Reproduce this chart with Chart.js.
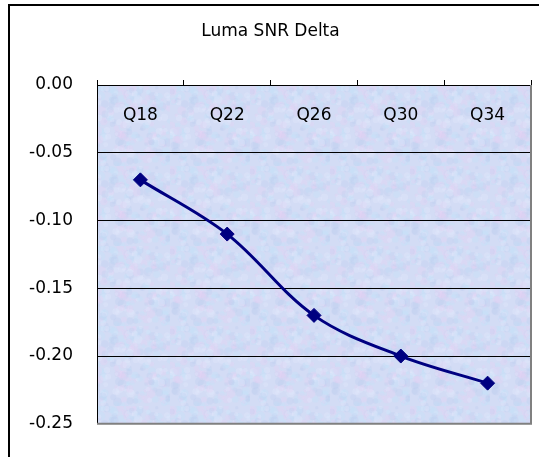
<!DOCTYPE html>
<html>
<head>
<meta charset="utf-8">
<script src="https://cdn.jsdelivr.net/npm/chart.js@4.4.1/dist/chart.umd.min.js"></script>
<style>
  html, body { margin: 0; padding: 0; background: #fff; overflow: hidden; }
  #frame {
    position: absolute; left: 8px; top: 4px;
    width: 560px; height: 480px;
    border-left: 2px solid #000; border-top: 2px solid #000;
  }
  #chart { position: absolute; left: 0; top: 0; }
</style>
</head>
<body>
<div id="frame"><canvas id="chart" width="536" height="452"></canvas></div>
<script>
const categories = ['Q18', 'Q22', 'Q26', 'Q30', 'Q34'];
const snrDelta = [-0.07, -0.11, -0.17, -0.20, -0.22];
const yMin = -0.25;
const yMax = 0;
const yStep = 0.05;

// fine blue/pink grain tile, a stand-in for the excel textured fill
function makeTexture() {
  const t = document.createElement('canvas');
  t.width = 80; t.height = 80;
  const g = t.getContext('2d');
  g.fillStyle = '#d3dcf5';
  g.fillRect(0, 0, 80, 80);
  const tints = ['rgba(196,226,248,0.35)', 'rgba(228,210,244,0.35)', 'rgba(190,205,240,0.3)', 'rgba(225,232,252,0.35)'];
  const hash = (n) => ((Math.sin(n) * 43758.5453) % 1 + 1) % 1;
  for (let i = 0; i < 260; i++) {
    const x = hash(i * 12.9898) * 80;
    const y = hash(i * 78.233 + 3.1) * 80;
    const r = 1.5 + hash(i * 4.7 + 9.2) * 3;
    g.fillStyle = tints[i % tints.length];
    g.beginPath();
    g.arc(x, y, r, 0, Math.PI * 2);
    g.fill();
  }
  return t;
}

// plot area fill + grey border on right/bottom, like the excel plot area
const plotArea = {
  id: 'plotArea',
  beforeDraw(chart) {
    const a = chart.chartArea;
    const c = chart.ctx;
    c.save();
    c.fillStyle = c.createPattern(makeTexture(), 'repeat');
    c.fillRect(a.left, a.top, a.right - a.left, a.bottom - a.top);
    c.restore();
  },
  afterDraw(chart) {
    const a = chart.chartArea;
    const c = chart.ctx;
    c.save();
    c.strokeStyle = '#808080';
    c.lineWidth = 2;
    c.beginPath();
    c.moveTo(a.right, a.top);
    c.lineTo(a.right, a.bottom);
    c.lineTo(a.left, a.bottom);
    c.stroke();
    c.restore();
  }
};

const ctx = document.getElementById('chart').getContext('2d');
const chart = new Chart(ctx, {
  type: 'line',
  data: {
    labels: categories,
    datasets: [{
      label: 'Luma SNR Delta',
      data: snrDelta,
      borderColor: '#000080',
      backgroundColor: '#000080',
      borderWidth: 3,
      tension: 0.35,
      pointStyle: 'rectRot',
      pointRadius: 7,
      pointBorderWidth: 1,
      pointBackgroundColor: '#000080',
      pointBorderColor: '#000080'
    }]
  },
  options: {
    responsive: false,
    animation: false,
    layout: { padding: { left: 0, right: 15, top: 0, bottom: 30 } },
    plugins: {
      legend: { display: false },
      tooltip: { enabled: false },
      title: {
        display: true,
        text: 'Luma SNR Delta',
        color: '#000',
        font: { family: 'DejaVu Sans', size: 17, weight: 'normal', lineHeight: 1.2 },
        padding: { top: 15, bottom: 33.6 }
      }
    },
    scales: {
      x: {
        position: 'top',
        offset: true,
        grid: { offset: true, drawOnChartArea: false, drawTicks: true, tickLength: 5, color: '#000' },
        border: { color: '#000', width: 1 },
        ticks: {
          color: '#000',
          mirror: true,   // labels sit inside the plot, under the 0.00 axis
          padding: 20,
          maxRotation: 0,
          autoSkip: false,
          font: { family: 'DejaVu Sans', size: 17 }
        },
        afterFit(s) { s.height = 10; }
      },
      y: {
        min: yMin,
        max: yMax,
        grid: {
          drawTicks: false,
          color: (c) => (c.tick && c.tick.value <= yMin + 1e-9) ? 'rgba(0,0,0,0)' : '#000',
          lineWidth: 1
        },
        border: { color: '#000', width: 1 },
        ticks: {
          stepSize: yStep,
          padding: 24,
          color: '#000',
          font: { family: 'DejaVu Sans', size: 17 },
          callback: (v) => Number(v).toFixed(2)
        },
        afterFit(s) { s.width = 87; }
      }
    }
  },
  plugins: [plotArea]
});
</script>
</body>
</html>
